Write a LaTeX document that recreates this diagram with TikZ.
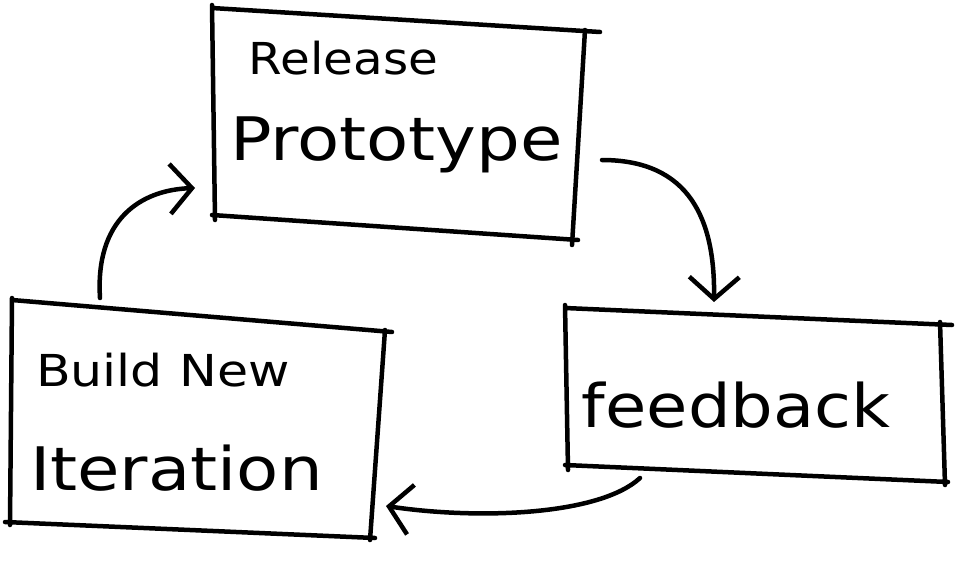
\documentclass[tikz,border=0pt]{standalone}
\usepackage{fontspec}
\setmainfont{DejaVu Sans}
\usetikzlibrary{arrows.meta}
\begin{document}
\begin{tikzpicture}[x=1pt,y=-1pt,
  sk/.style={line width=4.5pt,line cap=round,line join=round},
  arr/.style={sk,-{Straight Barb[length=22pt,width=50pt,line width=4.5pt]}},
  sm/.style={font=\fontsize{44}{46}\selectfont},
  bg/.style={font=\fontsize{60}{62}\selectfont}]
\useasboundingbox (0,0) rectangle (957,567);
\draw[sk] (212,8) -- (600,32) (585,30) -- (572,245) (578,240) -- (212,215) (215,220) -- (212,5);
\draw[sk] (12,300) -- (392,332) (385,330) -- (370,540) (375,538) -- (5,522) (10,525) -- (12,298);
\draw[sk] (565,308) -- (952,325) (940,322) -- (945,485) (948,482) -- (565,465) (568,470) -- (565,305);
\node[sm,anchor=west,xscale=1.1] (rp1) at (245,58) {Release};
\node[bg,anchor=west,xscale=1.15] (rp2) at (226,145) {Prototype};
\node[sm,anchor=west,xscale=1.15] (bn1) at (32,370) {Build New};
\node[bg,anchor=west,xscale=1.15] (bn2) at (26,468) {Iteration};
\node[bg,anchor=west,xscale=1.12] (fb) at (578,405) {feedback};
\coordinate (a1) at (100,298);
\coordinate (a1e) at (195,188);
\coordinate (a2) at (602,160);
\coordinate (a2e) at (714,302);
\coordinate (a3) at (640,478);
\coordinate (a3e) at (386,506);
\draw[arr] (a1) .. controls (95,220) and (140,190) .. (a1e);
\draw[arr] (a2) .. controls (690,160) and (715,220) .. (a2e);
\draw[arr] (a3) .. controls (600,515) and (480,520) .. (a3e);
\end{tikzpicture}
\end{document}
